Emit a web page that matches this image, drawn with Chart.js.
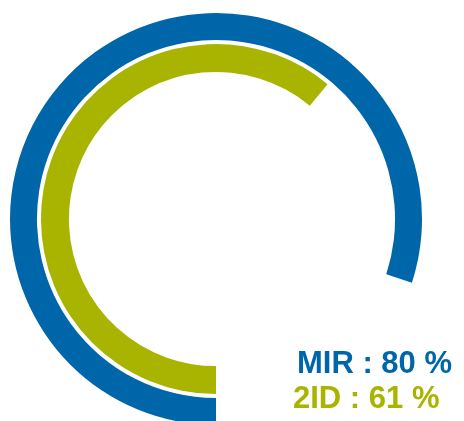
<!DOCTYPE html>
<html>
<head>
<meta charset="utf-8">
<script src="https://cdn.jsdelivr.net/npm/chart.js@4"></script>
<style>
  html, body { margin: 0; padding: 0; background: #fff; overflow: hidden; width: 464px; height: 421px; }
  #wrap { position: absolute; left: 0; top: 0; width: 464px; height: 440px; }
  .lbl { position: absolute; font-family: "Liberation Sans", Arial, sans-serif; font-weight: bold; font-size: 31px; line-height: 31px; white-space: pre; }
  #mir { left: 297px; top: 347px; color: #0066aa; }
  #id2 { left: 293px; top: 382px; color: #a9b400; }
</style>
</head>
<body>
<div id="wrap"><canvas id="ring"></canvas></div>
<div class="lbl" id="mir"></div>
<div class="lbl" id="id2"></div>
<script>
// series shown as rings, outer first
const names = ['MIR', '2ID'];
const percents = [80, 61];
const colors = ['#0066aa', '#a9b400'];

document.getElementById('mir').textContent = names[0] + ' : ' + percents[0] + ' %';
document.getElementById('id2').textContent = names[1] + ' : ' + percents[1] + ' %';

var ring = (i, w) => ({
    data: [percents[i], 100 - percents[i]],
    backgroundColor: [colors[i], 'rgba(0,0,0,0)'],
    borderWidth: 0,
    weight: w
});

var ctx = document.getElementById('ring').getContext('2d');
new Chart(ctx, {
    type: 'doughnut',
    data: {
        labels: ['value', 'rest'],
        datasets: [
            ring(0, 27),
            // white gap between the two rings
            { data: [100], backgroundColor: ['rgba(0,0,0,0)'], borderWidth: 0, weight: 4 },
            ring(1, 28)
        ]
    },
    options: {
        responsive: true,
        maintainAspectRatio: false,
        animation: false,
        rotation: 180,
        cutout: '71.4%',
        layout: { padding: { left: 10, right: 42, top: 13, bottom: 15 } },
        plugins: { legend: { display: false }, tooltip: { enabled: false } }
    }
});
</script>
</body>
</html>
